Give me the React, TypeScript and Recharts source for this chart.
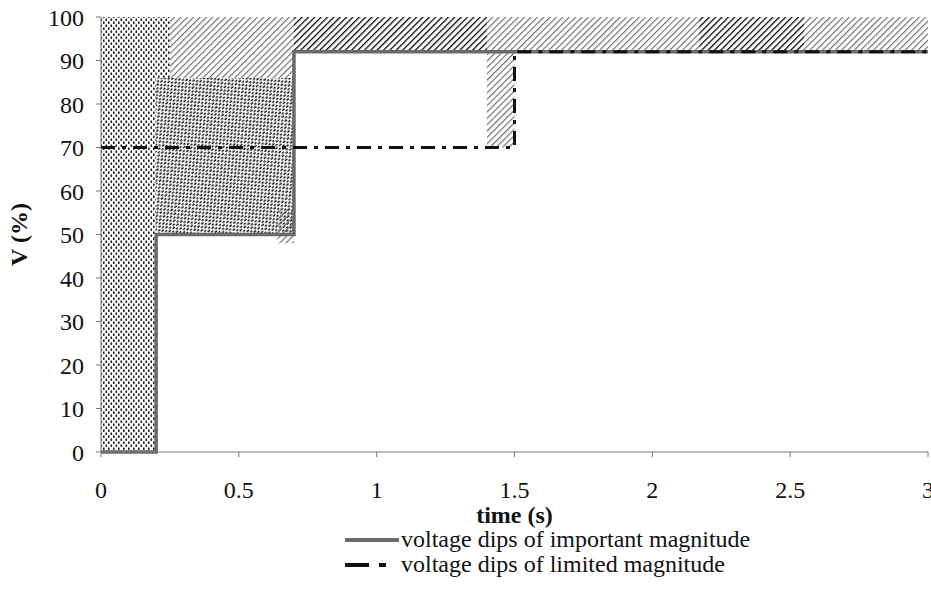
import { ComposedChart, Line, XAxis, YAxis, ReferenceArea, Legend } from 'recharts';

// time axis ticks (s) and voltage ticks (%)
const timeTicks = [0, 0.5, 1, 1.5, 2, 2.5, 3];
const voltTicks = [0, 10, 20, 30, 40, 50, 60, 70, 80, 90, 100];

// shaded zones
const zoneKind = ['dots', 'dots', 'dense', 'hatch', 'hatch', 'darkHatch', 'hatch', 'hatch', 'darkHatch', 'hatch'];
const zoneStart = [0, 0.2, 0.2, 0.25, 0.64, 0.7, 1.4, 1.5, 2.17, 2.55];
const zoneEnd = [0.2, 0.25, 0.7, 0.7, 0.7, 1.4, 1.5, 2.17, 2.55, 3];
const zoneLow = [0, 86, 50, 86, 48, 92, 70, 92, 92, 92];
const zoneHigh = [100, 100, 86, 100, 56, 100, 100, 100, 100, 100];

// voltage dips of important magnitude
const importantTime = [0, 0.2, 0.2, 0.7, 0.7, 3];
const importantV = [0, 0, 50, 50, 92, 92];

// voltage dips of limited magnitude
const limitedTime = [0, 1.5, 1.5, 3];
const limitedV = [70, 70, 92, 92];

const importantData = importantTime.map((t, i) => ({ t, v: importantV[i] }));
const limitedData = limitedTime.map((t, i) => ({ t, v: limitedV[i] }));

const FILLS: Record<string, string> = {
  dots: 'url(#dots)',
  dense: 'url(#dense)',
  hatch: 'url(#hatch)',
  darkHatch: 'url(#darkHatch)',
};

const FONT = "'Liberation Serif', 'DejaVu Serif', 'Times New Roman', serif";
const FS = 24;

const YLabel = (props: any) => {
  const { viewBox } = props;
  const cx = 19;
  const cy = viewBox.y + viewBox.height / 2;
  return (
    <text x={cx} y={cy} transform={`rotate(-90 ${cx} ${cy})`} textAnchor="middle" dominantBaseline="central"
      style={{ fontFamily: FONT }} fontWeight="bold" fontSize={FS} fill="#111">
      V (%)
    </text>
  );
};

const XLabel = (props: any) => {
  const { viewBox } = props;
  return (
    <text x={viewBox.x + viewBox.width / 2} y={523} textAnchor="middle"
      style={{ fontFamily: FONT }} fontWeight="bold" fontSize={FS} fill="#111">
      time (s)
    </text>
  );
};

const LegendBox = () => (
  <div style={{ paddingLeft: 345, paddingTop: 2, fontFamily: FONT, fontSize: FS, color: '#111', lineHeight: '25px' }}>
    <div style={{ display: 'flex', alignItems: 'center', height: 25 }}>
      <svg width={56} height={10}><line x1={0} y1={5} x2={54} y2={5} stroke="#6a6a6a" strokeWidth={4} /></svg>
      <span>voltage dips of important magnitude</span>
    </div>
    <div style={{ display: 'flex', alignItems: 'center', height: 25 }}>
      <svg width={56} height={10}><line x1={0} y1={5} x2={54} y2={5} stroke="#111" strokeWidth={4} strokeDasharray="24 10 7 20" /></svg>
      <span>voltage dips of limited magnitude</span>
    </div>
  </div>
);

const tickStyle = { fill: '#111', fontSize: FS, style: { fontFamily: FONT } };

export default function App() {
  return (
    <div style={{ position: 'absolute', left: 0, top: 0, background: '#fff', fontFamily: FONT }}>
      <ComposedChart width={931} height={611} margin={{ top: 17, right: 3, left: 0, bottom: 32 }}>
        <defs>
          <pattern id="dots" width="5" height="6" patternUnits="userSpaceOnUse">
            <rect x="0.5" y="0.5" width="1.6" height="2.4" fill="#1a1a1a" />
            <rect x="3" y="3.5" width="1.6" height="2.4" fill="#1a1a1a" />
          </pattern>
          <pattern id="dense" width="5" height="5" patternUnits="userSpaceOnUse" patternTransform="rotate(-40)">
            <rect x="0" y="0.5" width="3" height="1.5" fill="#111" />
            <rect x="2.5" y="3" width="3" height="1.5" fill="#111" />
          </pattern>
          <pattern id="hatch" width="4.5" height="4.5" patternUnits="userSpaceOnUse" patternTransform="rotate(45)">
            <line x1="0" y1="0" x2="0" y2="4.5" stroke="#6e6e6e" strokeWidth="2.3" />
          </pattern>
          <pattern id="darkHatch" width="4.5" height="4.5" patternUnits="userSpaceOnUse" patternTransform="rotate(45)">
            <line x1="0" y1="0" x2="0" y2="4.5" stroke="#000" strokeWidth="2.5" />
          </pattern>
        </defs>
        <XAxis dataKey="t" type="number" domain={[0, 3]} ticks={timeTicks} allowDataOverflow
          stroke="#777" tickSize={5} tickMargin={24} height={73} interval={0}
          tick={tickStyle} label={<XLabel />} />
        <YAxis type="number" domain={[0, 100]} ticks={voltTicks} width={101} interval={0}
          stroke="#777" tickSize={5} tickMargin={12}
          tick={tickStyle} label={<YLabel />} />
        {zoneKind.map((k, i) => (
          <ReferenceArea key={i} x1={zoneStart[i]} x2={zoneEnd[i]} y1={zoneLow[i]} y2={zoneHigh[i]}
            fill={FILLS[k]} fillOpacity={1} stroke="none" ifOverflow="hidden" />
        ))}
        <Line data={importantData} dataKey="v" type="linear" stroke="#6a6a6a" strokeWidth={3.5}
          dot={false} isAnimationActive={false} name="voltage dips of important magnitude" />
        <Line data={limitedData} dataKey="v" type="linear" stroke="#111" strokeWidth={3}
          strokeDasharray="14 7 4 7" dot={false} isAnimationActive={false} name="voltage dips of limited magnitude" />
        <Legend verticalAlign="bottom" align="left" content={<LegendBox />} wrapperStyle={{ height: 54 }} />
      </ComposedChart>
    </div>
  );
}
